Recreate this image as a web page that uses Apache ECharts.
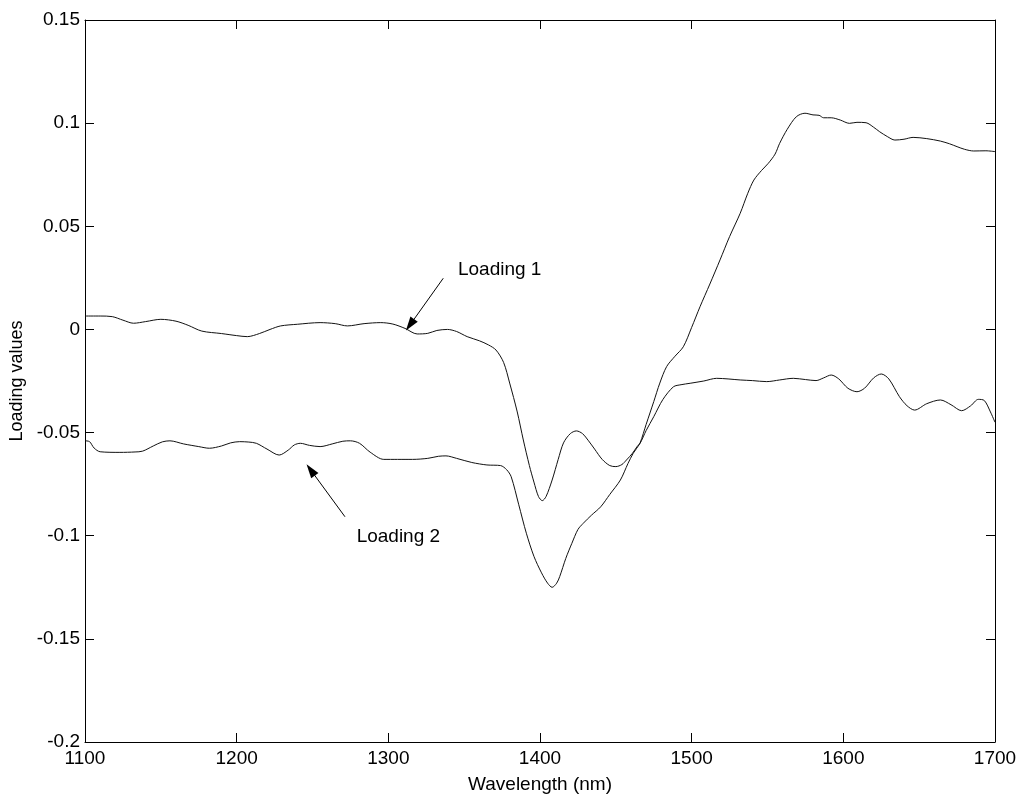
<!DOCTYPE html>
<html>
<head>
<meta charset="utf-8">
<title>Loading values</title>
<script src="https://cdn.jsdelivr.net/npm/echarts@6/dist/echarts.min.js"></script>
<style>
  html, body { margin: 0; padding: 0; background: #fff; }
  #chart { width: 1020px; height: 795px; }
</style>
</head>
<body>
<div id="chart"></div>
<script>
// 横坐标：波长 (nm)，纵坐标：载荷值
const wave1 = [1100, 1110, 1118, 1125, 1132, 1140, 1150, 1160, 1168, 1177, 1190, 1200, 1207, 1215, 1222, 1229, 1240, 1255, 1265, 1273,
  1284, 1295, 1303, 1311, 1319, 1326, 1332, 1339, 1345, 1352, 1360, 1366, 1371, 1376, 1380, 1385, 1389, 1393, 1396, 1399,
  1401.5, 1404, 1408, 1412, 1415.5, 1420, 1424, 1428, 1432, 1436, 1441, 1446, 1450, 1454, 1457, 1461, 1464, 1466, 1470, 1475,
  1479, 1483.5, 1489, 1494.5, 1500, 1505.5, 1512, 1518.7, 1525, 1532, 1537, 1541, 1546, 1550.5, 1555, 1558, 1563, 1569, 1574.7, 1580,
  1584, 1587, 1592, 1598, 1604, 1609, 1615, 1620, 1624, 1629, 1634, 1640, 1646, 1655, 1664, 1670, 1675, 1680, 1686, 1694, 1700]
const loading1 = [0.0065, 0.0065, 0.0062, 0.0045, 0.0030, 0.0038, 0.0049, 0.0040, 0.0020, -0.0008, -0.0020, -0.0030, -0.0035, -0.0020, 0.0000, 0.0017, 0.0025, 0.0033, 0.0028, 0.0017,
  0.0028, 0.0033, 0.0026, 0.0005, -0.0022, -0.0019, -0.0005, 0.0000, -0.0010, -0.0035, -0.0055, -0.0075, -0.0100, -0.0160, -0.0260, -0.0400, -0.0536, -0.0660, -0.0740, -0.0810,
  -0.0830, -0.0810, -0.0730, -0.0630, -0.0550, -0.0505, -0.0492, -0.0505, -0.0540, -0.0580, -0.0630, -0.0660, -0.0665, -0.0655, -0.0633, -0.0600, -0.0568, -0.0550, -0.0460, -0.0350,
  -0.0260, -0.0180, -0.0130, -0.0084, 0.0010, 0.0110, 0.0220, 0.0337, 0.0450, 0.0563, 0.0660, 0.0724, 0.0770, 0.0805, 0.0850, 0.0902, 0.0970, 0.1031, 0.1048, 0.1040,
  0.1038, 0.1026, 0.1026, 0.1015, 0.0999, 0.1004, 0.1002, 0.0980, 0.0958, 0.0935, 0.0918, 0.0922, 0.0931, 0.0925, 0.0913, 0.0900, 0.0886, 0.0873, 0.0865, 0.0866, 0.0862]

const wave2 = [1100, 1103, 1106, 1110, 1123, 1133, 1138, 1145, 1151, 1156, 1165, 1175, 1182, 1190, 1196, 1202, 1208, 1213, 1220, 1228,
  1234, 1238, 1242, 1248, 1255, 1263, 1270, 1275, 1281, 1288, 1297, 1306, 1316, 1326, 1333, 1338, 1345, 1355, 1365, 1374,
  1378, 1381, 1386, 1391, 1396, 1401, 1405, 1408, 1411, 1413, 1417, 1421, 1425, 1428.5, 1434, 1440, 1446, 1453, 1458, 1461.5,
  1466, 1470, 1475, 1481, 1488, 1493, 1499, 1508, 1516.5, 1524, 1532, 1540, 1549.5, 1558, 1567, 1575, 1582, 1587, 1592, 1597,
  1603, 1609, 1614, 1620, 1625, 1630, 1637, 1642, 1647, 1655, 1664, 1671, 1678, 1684, 1689, 1693, 1697, 1700]
const loading2 = [-0.0540, -0.0544, -0.0575, -0.0593, -0.0596, -0.0594, -0.0590, -0.0565, -0.0545, -0.0540, -0.0555, -0.0568, -0.0576, -0.0565, -0.0550, -0.0544, -0.0546, -0.0552, -0.0580, -0.0609,
  -0.0585, -0.0560, -0.0552, -0.0562, -0.0568, -0.0555, -0.0542, -0.0540, -0.0552, -0.0595, -0.0630, -0.0630, -0.0630, -0.0625, -0.0615, -0.0613, -0.0625, -0.0645, -0.0657, -0.0660,
  -0.0680, -0.0714, -0.0850, -0.0988, -0.1100, -0.1180, -0.1230, -0.1250, -0.1230, -0.1198, -0.1110, -0.1037, -0.0970, -0.0940, -0.0900, -0.0860, -0.0800, -0.0730, -0.0650, -0.0600,
  -0.0552, -0.0490, -0.0423, -0.0340, -0.0278, -0.0268, -0.0261, -0.0250, -0.0237, -0.0240, -0.0245, -0.0248, -0.0253, -0.0245, -0.0237, -0.0243, -0.0248, -0.0235, -0.0221, -0.0240,
  -0.0285, -0.0302, -0.0285, -0.0235, -0.0216, -0.0240, -0.0326, -0.0370, -0.0391, -0.0360, -0.0342, -0.0365, -0.0394, -0.0370, -0.0339, -0.0345, -0.0400, -0.0450]

// 标注文字与箭头（数据坐标）
const labelNames = ['Loading 1', 'Loading 2']
const labelPos = [[1345.9, 0.0288], [1279.1, -0.1006]]
const arrowFrom = [[1336.2, 0.0248], [1271.4, -0.0908]]
const arrowTo = [[1314.3, 0.0022], [1248.8, -0.0681]]

const xTicks = { min: 1100, max: 1700, interval: 100 }
const yTicks = { min: -0.2, max: 0.15, interval: 0.05 }

const pairs = (xs, ys) => xs.map((x, i) => [x, ys[i]])
const font = 'Arial, "Liberation Sans", sans-serif'

const chart = echarts.init(document.getElementById('chart'))

const frameAxis = (extra) => Object.assign({
  type: 'value',
  axisLine: { show: true, onZero: false, lineStyle: { color: '#000', width: 1 } },
  axisTick: { show: true, inside: true, length: 9, lineStyle: { color: '#000', width: 1 } },
  splitLine: { show: false }
}, extra)

const option = {
  animation: false,
  backgroundColor: '#fff',
  grid: { left: 85, right: 25, top: 20, bottom: 53, containLabel: false, outerBoundsMode: 'none' },
  xAxis: [
    frameAxis({
      position: 'bottom',
      min: xTicks.min, max: xTicks.max, interval: xTicks.interval,
      name: 'Wavelength (nm)',
      nameLocation: 'middle',
      nameGap: 33,
      nameTextStyle: { color: '#000', fontSize: 19, fontFamily: font },
      axisLabel: { color: '#000', fontSize: 19, fontFamily: font, margin: 7, formatter: v => String(v) }
    }),
    frameAxis({
      position: 'top',
      min: xTicks.min, max: xTicks.max, interval: xTicks.interval,
      axisLabel: { show: false }
    })
  ],
  yAxis: [
    frameAxis({
      position: 'left',
      min: yTicks.min, max: yTicks.max, interval: yTicks.interval,
      name: 'Loading values',
      nameLocation: 'middle',
      nameGap: 58,
      nameTextStyle: { color: '#000', fontSize: 18, fontFamily: font },
      axisLabel: { color: '#000', fontSize: 19, fontFamily: font, margin: 5 }
    }),
    frameAxis({
      position: 'right',
      min: yTicks.min, max: yTicks.max, interval: yTicks.interval,
      axisLabel: { show: false }
    })
  ],
  series: [
    {
      name: 'Loading 1',
      type: 'line',
      data: pairs(wave1, loading1),
      showSymbol: false,
      smooth: 0.3,
      lineStyle: { color: '#111', width: 1 },
      z: 3
    },
    {
      name: 'Loading 2',
      type: 'line',
      data: pairs(wave2, loading2),
      showSymbol: false,
      smooth: 0.3,
      lineStyle: { color: '#111', width: 1 },
      z: 3,
      // 箭头
      markLine: {
        silent: true,
        symbol: ['none', 'triangle'],
        symbolSize: [9, 14],
        lineStyle: { color: '#000', width: 1, type: 'solid' },
        label: { show: false },
        data: arrowFrom.map((p, i) => [
          { coord: p },
          { coord: arrowTo[i] }
        ])
      }
    },
    {
      // 标注文字
      name: 'labels',
      type: 'scatter',
      symbolSize: 0,
      itemStyle: { opacity: 1 },
      data: labelPos.map((p, i) => ({ value: p, name: labelNames[i] })),
      label: {
        show: true,
        position: 'right',
        distance: 0,
        formatter: p => p.name,
        color: '#000',
        opacity: 1,
        textBorderWidth: 0,
        fontSize: 19,
        fontFamily: font
      },
      emphasis: { disabled: true }
    }
  ]
}

chart.setOption(option)
</script>
</body>
</html>
